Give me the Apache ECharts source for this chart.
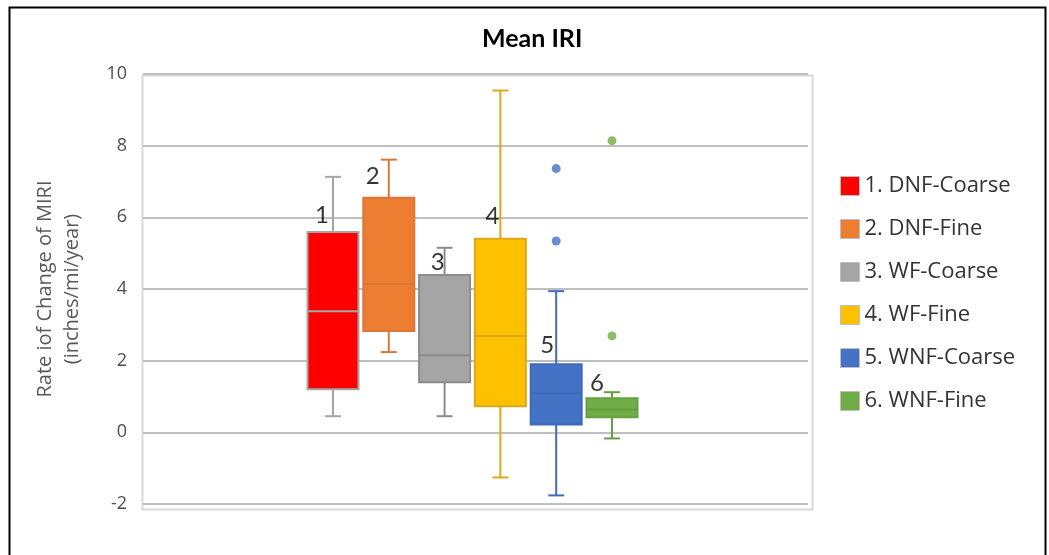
<!DOCTYPE html>
<html>
<head>
<meta charset="utf-8">
<script src="https://cdn.jsdelivr.net/npm/echarts@6/dist/echarts.min.js"></script>
<style>html,body{margin:0;padding:0;background:#fff;}#c{width:1049px;height:555px;}</style>
</head>
<body>
<div id="c"></div>
<script>
// ---- data ----
const groupNames = ['1. DNF-Coarse', '2. DNF-Fine', '3. WF-Coarse', '4. WF-Fine', '5. WNF-Coarse', '6. WNF-Fine'];
const boxLabels = ['1', '2', '3', '4', '5', '6'];
const mins    = [0.45, 2.24, 0.45, -1.26, -1.76, -0.17];
const q1s     = [1.20, 2.83, 1.40, 0.73, 0.22, 0.42];
const medians = [3.38, 4.14, 2.15, 2.69, 1.09, 0.64];
const q3s     = [5.59, 6.55, 4.39, 5.40, 1.90, 0.95];
const maxs    = [7.13, 7.61, 5.15, 9.54, 3.94, 1.12];
const outliersWNFCoarse = [7.36, 5.34];
const outliersWNFFine   = [8.14, 2.69];
const yTicks = [-2, 0, 2, 4, 6, 8, 10];

// ---- styles ----
const fills   = ['#ff0000', '#ed7d31', '#a5a5a5', '#ffc000', '#4472c4', '#70ad47'];
const strokes = ['#a5a5a5', '#d9773a', '#8c8c8c', '#dba81c', '#3f6bbd', '#64a140'];
const labelOffsets = [[-11, -17], [-16, -21], [-7, -13], [-8, -23], [-9, -19], [-15, -15]];
const BOX_W = 51 / 55.8, CAP_W = 16 / 55.8;

function renderBox(params, api) {
  const x = api.value(0);
  const pMin = api.coord([x, api.value(1)]);
  const pQ1 = api.coord([x, api.value(2)]);
  const pMed = api.coord([x, api.value(3)]);
  const pQ3 = api.coord([x, api.value(4)]);
  const pMax = api.coord([x, api.value(5)]);
  const bw = api.size([BOX_W, 0])[0];
  const cw = api.size([CAP_W, 0])[0];
  const i = params.seriesIndex;
  const ls = { stroke: strokes[i], lineWidth: 2 };
  return {
    type: 'group',
    children: [
      { type: 'line', shape: { x1: pMax[0], y1: pMax[1], x2: pQ3[0], y2: pQ3[1] }, style: ls },
      { type: 'line', shape: { x1: pQ1[0], y1: pQ1[1], x2: pMin[0], y2: pMin[1] }, style: ls },
      { type: 'line', shape: { x1: pMax[0] - cw / 2, y1: pMax[1], x2: pMax[0] + cw / 2, y2: pMax[1] }, style: ls },
      { type: 'line', shape: { x1: pMin[0] - cw / 2, y1: pMin[1], x2: pMin[0] + cw / 2, y2: pMin[1] }, style: ls },
      { type: 'rect', shape: { x: pQ3[0] - bw / 2, y: pQ3[1], width: bw, height: pQ1[1] - pQ3[1] },
        style: { fill: fills[i], stroke: strokes[i], lineWidth: 2 } },
      { type: 'line', shape: { x1: pMed[0] - bw / 2, y1: pMed[1], x2: pMed[0] + bw / 2, y2: pMed[1] }, style: ls }
    ]
  };
}

const series = [];
groupNames.forEach(function (name, i) {
  series.push({
    name: name,
    type: 'custom',
    xAxisIndex: 0, yAxisIndex: 0,
    renderItem: renderBox,
    itemStyle: { color: fills[i], borderColor: strokes[i] },
    data: [[i, mins[i], q1s[i], medians[i], q3s[i], maxs[i]]],
    z: 3
  });
});
series.push({
  name: groupNames[4], type: 'scatter', symbol: 'circle', symbolSize: 9,
  itemStyle: { color: fills[4] },
  data: outliersWNFCoarse.map(function (v) { return [4, v]; }), z: 4
});
series.push({
  name: groupNames[5], type: 'scatter', symbol: 'circle', symbolSize: 9,
  itemStyle: { color: fills[5] },
  data: outliersWNFFine.map(function (v) { return [5, v]; }), z: 4
});
series.push({
  name: 'labels', type: 'scatter', symbolSize: 0, silent: true,
  data: boxLabels.map(function (t, i) {
    return { value: [i, q3s[i]], label: { offset: labelOffsets[i] } };
  }),
  label: {
    show: true, position: 'inside',
    formatter: function (p) { return boxLabels[p.dataIndex]; },
    color: '#000', fontSize: 24, fontFamily: 'Lato, "Open Sans", sans-serif'
  },
  z: 5
});

const chart = echarts.init(document.getElementById('c'), null, { renderer: 'canvas' });
chart.setOption({
  backgroundColor: '#ffffff',
  animation: false,
  title: {
    text: 'Mean IRI', left: 477, top: 21,
    textStyle: { fontSize: 25, fontWeight: 'bold', color: '#000', fontFamily: 'Lato, "Open Sans", sans-serif' }
  },
  legend: {
    orient: 'vertical', left: 835, top: 170,
    itemWidth: 19, itemHeight: 19, itemGap: 21,
    icon: 'rect',
    data: groupNames.map(function (n, i) {
      return { name: n, itemStyle: { color: fills[i], borderColor: '#bfbfbf', borderWidth: 1 } };
    }),
    textStyle: { fontSize: 22, lineHeight: 21, color: '#333', fontFamily: '"Open Sans", sans-serif' }
  },
  grid: { left: 143, right: 241, top: 74, bottom: 51, containLabel: false },
  xAxis: {
    type: 'value', min: -3.405, max: 8.513,
    show: false, splitLine: { show: false }
  },
  yAxis: {
    type: 'value', min: yTicks[0], max: yTicks[yTicks.length - 1], interval: 2,
    axisLine: { show: false }, axisTick: { show: false },
    axisLabel: { fontSize: 18, color: '#4d4d4d', margin: 16, fontFamily: '"Open Sans", sans-serif' },
    splitLine: { show: true, lineStyle: { color: '#bfbfbf', width: 2 } },
    name: 'Rate iof Change of MIRI\n(inches/mi/year)',
    nameLocation: 'middle', nameGap: 57, nameRotate: 90,
    nameTextStyle: { fontSize: 20, color: '#595959', lineHeight: 27, fontFamily: '"Open Sans", sans-serif' }
  },
  graphic: [
    { type: 'rect', left: 7, top: 5, shape: { width: 1036, height: 570 }, style: { fill: 'none', stroke: '#000', lineWidth: 2 }, silent: true },
    { type: 'rect', left: 140, top: 73, shape: { width: 670, height: 434 }, style: { fill: 'none', stroke: '#d9d9d9', lineWidth: 2 }, silent: true, z: -1 }
  ],
  series: series
});
</script>
</body>
</html>
